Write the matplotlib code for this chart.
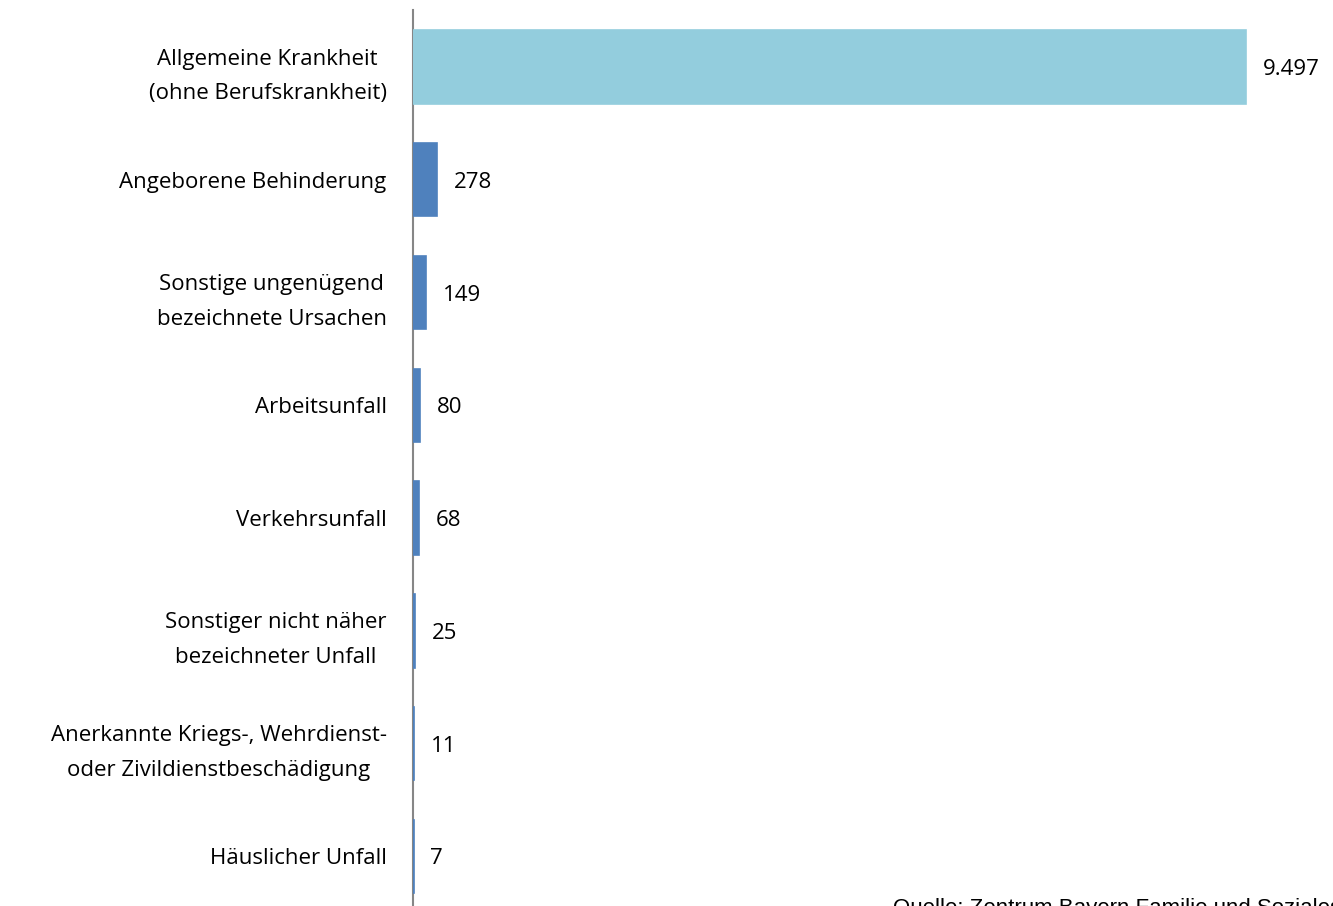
import matplotlib
matplotlib.use('Agg')
import matplotlib.pyplot as plt

# Daten
categories = [
    'Allgemeine Krankheit\n(ohne Berufskrankheit)',
    'Angeborene Behinderung',
    'Sonstige ungenügend\nbezeichnete Ursachen',
    'Arbeitsunfall',
    'Verkehrsunfall',
    'Sonstiger nicht näher\nbezeichneter Unfall',
    'Anerkannte Kriegs-, Wehrdienst-\noder Zivildienstbeschädigung',
    'Häuslicher Unfall',
]
values = [9497, 278, 149, 80, 68, 25, 11, 7]
colors = ['#93CDDD'] + ['#4F81BD'] * 7

plt.rcParams['font.family'] = ['Open Sans', 'DejaVu Sans']

fig = plt.figure(figsize=(13.33, 9.06), dpi=100)
ax = fig.add_axes([413 / 1333, 0, 920 / 1333, 896 / 906])

pos = list(range(len(values)))
ax.barh(pos, values, height=0.65, color=colors, edgecolor=colors, linewidth=1.2)

for p, v in zip(pos, values):
    txt = f'{v:,}'.replace(',', '.')
    ax.annotate(txt, (v, p), xytext=(12, 0), textcoords='offset points',
                va='center_baseline', ha='left', fontsize=16, color='#000000')

ax.set_xlim(0, 10489)
ax.set_ylim(7.44, -0.506)
ax.set_yticks(pos)
ax.set_yticklabels(categories, fontsize=16, multialignment='center', linespacing=1.85)
ax.tick_params(axis='y', length=0, pad=19)
ax.set_xticks([])

for s in ['top', 'right', 'bottom']:
    ax.spines[s].set_visible(False)
ax.spines['left'].set_color('#868686')
ax.spines['left'].set_linewidth(1.5)
ax.spines['left'].set_zorder(0.5)

fig.text(893 / 1333, 1 - 898 / 906, 'Quelle: Zentrum Bayern Familie und Soziales',
         fontsize=16, family='Liberation Sans', va='top', ha='left')

fig.savefig('out.png', dpi=100)
